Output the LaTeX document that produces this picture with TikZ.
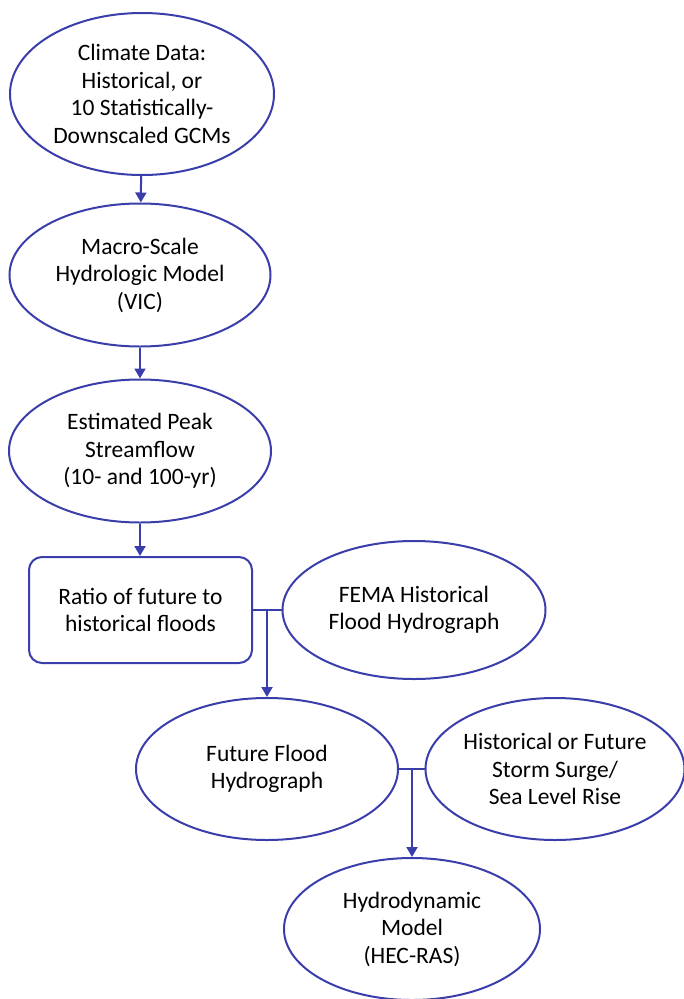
\documentclass[tikz,border=0pt]{standalone}
\usepackage{fontspec}
\setmainfont{Carlito}
\usetikzlibrary{shapes.geometric,arrows.meta}
\definecolor{flowblue}{RGB}{58,62,170}
\tikzset{
	oval/.style={draw=flowblue, line width=2pt, ellipse, inner sep=0pt, align=center, font=\fontsize{23.5}{27.5}\selectfont},
	roundbox/.style={draw=flowblue, line width=2pt, rounded corners=13pt, inner sep=0pt, align=center, font=\fontsize{23.5}{27.5}\selectfont},
	link/.style={draw=flowblue, line width=2pt},
	flow/.style={link, -{Triangle[length=10pt,width=11pt]}}
}
\begin{document}
\begin{tikzpicture}[x=1pt, y=-1pt]
		\useasboundingbox (0,0) rectangle (683,999);
		\node[oval, minimum width=264pt, minimum height=162pt] (climate) at (142,94) {Climate Data:\\Historical, or\\10 Statistically-\\Downscaled GCMs};
		\node[oval, minimum width=261pt, minimum height=143pt] (vic) at (140,275) {Macro-Scale\\Hydrologic Model\\(VIC)};
		\node[oval, minimum width=262pt, minimum height=143pt] (peak) at (140,451) {Estimated Peak\\Streamflow\\(10- and 100-yr)};
		\node[roundbox, minimum width=223pt, minimum height=106pt] (ratio) at (140.5,610) {Ratio of future to\\historical floods};
		\node[oval, minimum width=263pt, minimum height=138pt] (fema) at (414,610) {FEMA Historical\\Flood Hydrograph};
		\node[oval, minimum width=262pt, minimum height=142pt] (future) at (267,769) {Future Flood\\Hydrograph};
		\node[oval, minimum width=255pt, minimum height=142pt] (surge) at (555,769) {Historical or Future\\Storm Surge/\\Sea Level Rise};
		\node[oval, minimum width=256pt, minimum height=142pt] (hydro) at (412,929) {Hydrodynamic\\Model\\(HEC-RAS)};

		\coordinate (j1) at (267,610);
		\coordinate (j2) at (412,769);

		\draw[flow] (climate) -- (vic);
		\draw[flow] (vic) -- (peak);
		\draw[flow] (peak.south) -- (peak.south |- ratio.north);
		\draw[link] (ratio.east) -- (fema.west);
		\draw[flow] (j1) -- (future.north);
		\draw[link] (future.east) -- (surge.west);
		\draw[flow] (j2) -- (hydro.north);
	\end{tikzpicture}
\end{document}
